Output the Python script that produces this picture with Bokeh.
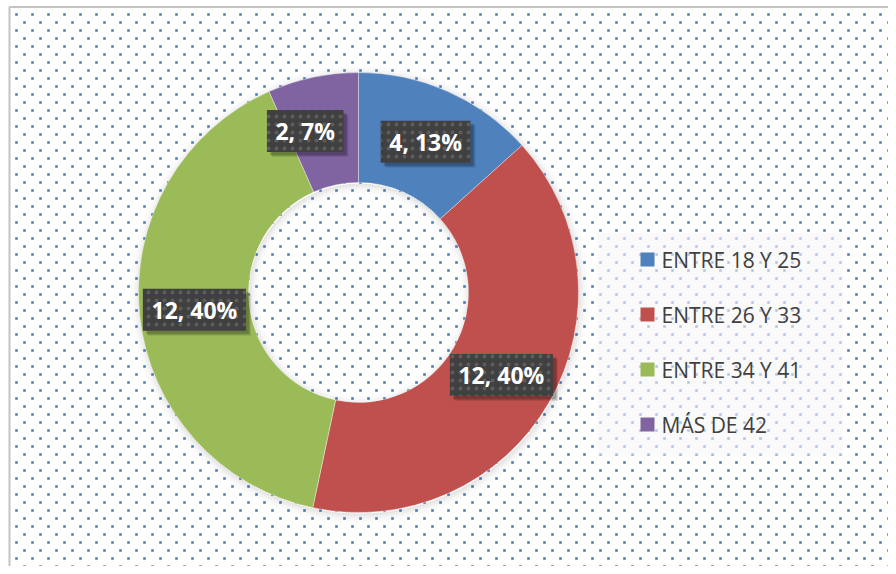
import numpy as np
from bokeh.plotting import figure
from bokeh.models import Range1d, ColumnDataSource
from bokeh.embed import file_html
from bokeh.resources import INLINE
from bokeh.core.properties import value

# ---- data ----
categories = ["ENTRE 18 Y 25", "ENTRE 26 Y 33", "ENTRE 34 Y 41", "MÁS DE 42"]
counts = [4, 12, 12, 2]
percent_labels = ["13%", "40%", "40%", "7%"]

# ---- style ----
colors = ["#4f81bd", "#c0504d", "#9bbb59", "#8064a2"]
label_nudge_x = [0, 0, 0, -19]

W, H = 888, 566
p = figure(width=W, height=H, x_range=Range1d(0, W), y_range=Range1d(0, H),
           output_backend="svg", toolbar_location=None, min_border=0)
p.axis.visible = False
p.grid.visible = False
p.outline_line_color = None
p.background_fill_color = "white"
p.border_fill_color = "white"


def X(px):
    return px


def Y(py):
    return H - py


# background dotted pattern
dx, dy = [], []
n = 0
py = 14
while py < H + 4:
    px = 16 + 8 * (n % 2)
    while px < W + 4:
        dx.append(X(px))
        dy.append(Y(py))
        px += 16
    py += 8
    n += 1
p.scatter(dx, dy, marker="square", size=2.6, fill_color="#4a7dc0",
          line_color=None)

# chart frame (top / left edges)
p.line([X(9), X(9), X(W + 5)], [Y(H + 5), Y(6.5), Y(6.5)],
       line_color="#c3c3c3", line_width=2)

# donut geometry
cx, cy = X(358), Y(292)
r_in, r_out = 110, 220

# soft shadow around donut
for i, a in enumerate([0.10, 0.07, 0.045, 0.025, 0.012]):
    p.annular_wedge(x=cx + 1, y=cy - 2, inner_radius=r_out - 1 + 2 * i,
                    outer_radius=r_out + 1 + 2 * i, start_angle=0,
                    end_angle=2 * np.pi, fill_color="black", fill_alpha=a,
                    line_color=None)
    p.annular_wedge(x=cx + 1, y=cy - 2, inner_radius=r_in - 1 - 2 * i,
                    outer_radius=r_in + 1 - 2 * i, start_angle=0,
                    end_angle=2 * np.pi, fill_color="black", fill_alpha=a,
                    line_color=None)

total = float(sum(counts))
fr = np.array(counts) / total
cum_after = np.cumsum(fr)
cum_before = cum_after - fr
start = np.pi / 2 - 2 * np.pi * cum_before
end = np.pi / 2 - 2 * np.pi * cum_after

src = ColumnDataSource(dict(start=start, end=end, color=colors, cat=categories))
p.annular_wedge(x=cx, y=cy, inner_radius=r_in, outer_radius=r_out,
                start_angle="start", end_angle="end", direction="clock",
                fill_color="color", line_color="white", line_width=0.6,
                line_alpha=0.6, source=src)

# data labels
mid = (cum_before + cum_after) / 2
r_lab = (r_in + r_out) / 2
lx = cx + r_lab * np.sin(2 * np.pi * mid) + np.array(label_nudge_x)
ly = cy + r_lab * np.cos(2 * np.pi * mid)
texts = [f"{c}, {pc}" for c, pc in zip(counts, percent_labels)]
bw = [13.3 * len(t) + 10 for t in texts]
bh = 42

for off, a in [(5, 0.10), (4, 0.12), (3, 0.15)]:
    p.rect(x=lx + off, y=ly - off, width=bw, height=bh, fill_color="black",
           fill_alpha=a, line_color=None)
p.rect(x=lx, y=ly, width=bw, height=bh, fill_color="#404040", line_color=None,
       hatch_pattern="dot", hatch_color="#5c5c5c", hatch_scale=8)
p.text(x=lx, y=ly, text=texts, text_align="center", text_baseline="middle",
       text_color="white", text_font=value("Open Sans"),
       text_font_style="bold", text_font_size="23px")

# legend
leg_l, leg_r, leg_t, leg_b = X(597), X(842), Y(232), Y(455)
p.rect(x=(leg_l + leg_r) / 2, y=(leg_t + leg_b) / 2, width=leg_r - leg_l,
       height=leg_t - leg_b, fill_color="#f6f6f6", fill_alpha=0.6,
       line_color=None)
ley = [leg_t - 27 - 55 * i for i in range(len(categories))]
p.scatter(x=[X(647)] * len(categories), y=ley, marker="square", size=14,
          fill_color=colors, line_color=None)
p.text(x=[X(661)] * len(categories), y=ley, text=categories,
       text_align="left", text_baseline="middle", text_color="#404040",
       text_font=value("Open Sans"), text_font_size="21px")

open("out.html", "w").write(file_html(p, INLINE))
